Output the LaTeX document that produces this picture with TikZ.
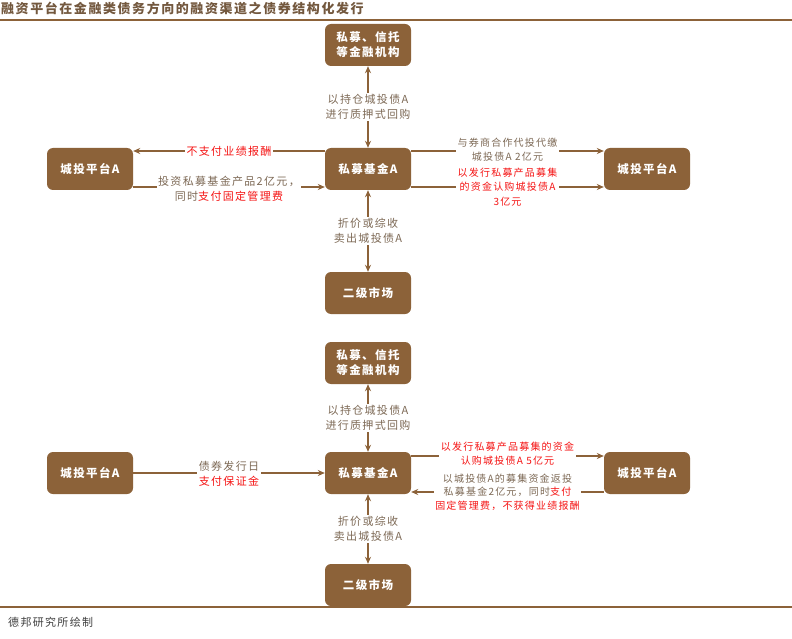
\documentclass[tikz,border=0pt]{standalone}
\usepackage{fontspec}
\setmainfont{Liberation Serif}
\newfontfamily\cjk{Noto Sans CJK SC}
\newfontfamily\cjkw[LetterSpace=12]{Noto Sans CJK SC}
\usetikzlibrary{arrows.meta}
\definecolor{brn}{RGB}{140,98,57}
\definecolor{lbl}{RGB}{125,105,85}
\definecolor{ttl}{RGB}{115,88,62}
\definecolor{rd}{RGB}{245,20,20}
\begin{document}
\begin{tikzpicture}[x=1pt,y=-1pt,
  box/.style={fill=brn, rounded corners=6pt, minimum width=86pt, minimum height=42pt,
    text=white, font=\cjkw\bfseries\fontsize{11.5}{15}\selectfont, align=center, inner sep=0pt},
  lab/.style={text=lbl, font=\cjkw\fontsize{11}{15}\selectfont, align=center, fill=white, inner sep=1.5pt},
  red/.style={text=rd},
  arr/.style={draw=brn, line width=1.3pt, -{Stealth[length=7pt,width=6pt]}},
  darr/.style={draw=brn, line width=1.3pt, {Stealth[length=7pt,width=6pt]}-{Stealth[length=7pt,width=6pt]}},
  rule/.style={draw=brn, line width=1.6pt}]
\useasboundingbox (0,0) rectangle (792,639);
\fill[white] (0,0) rectangle (792,639);
% title and rules
\node[anchor=west, text=ttl, font=\cjkw\bfseries\fontsize{13}{16}\selectfont, inner sep=0pt] (title) at (1,8) {融资平台在金融类债务方向的融资渠道之债券结构化发行};
\coordinate (r1a) at (0,20); \coordinate (r1b) at (792,20);
\draw[rule] (r1a) -- (r1b);
\coordinate (r2a) at (0,607); \coordinate (r2b) at (792,607);
\draw[rule] (r2a) -- (r2b);
\node[anchor=west, text=black!75, font=\cjkw\fontsize{11}{14}\selectfont, inner sep=0pt] (src) at (8,622) {德邦研究所绘制};

% ===== top diagram =====
\node[box] (f1) at (368,45) {私募、信托\\等金融机构};
\node[box] (p1) at (368,169) {私募基金A};
\node[box] (cl1) at (90,169) {城投平台A};
\node[box] (cr1) at (647,169) {城投平台A};
\node[box] (m1) at (368,293) {二级市场};

\draw[darr] (f1.south) -- (p1.north) node[midway, lab] {以持仓城投债A\\进行质押式回购};
\draw[darr] (p1.south) -- (m1.north) node[midway, lab] {折价或综收\\卖出城投债A};

\draw[arr] ([yshift=18pt]p1.west) -- ([yshift=18pt]cl1.east) node[midway, lab, red] {不支付业绩报酬};
\draw[arr] ([yshift=-18pt]cl1.east) -- ([yshift=-18pt]p1.west) node[midway, lab, yshift=-2pt] {投资私募基金产品2亿元，\\同时{\color{rd}支付固定管理费}};
\draw[arr] ([yshift=18pt]p1.east) -- ([yshift=18pt]cr1.west) node[midway, lab, yshift=1pt, font=\cjkw\fontsize{10}{14}\selectfont] {与券商合作代投代缴\\城投债A\ 2亿元};
\draw[arr] ([yshift=-18pt]p1.east) -- ([yshift=-18pt]cr1.west) node[midway, lab, red, font=\cjkw\fontsize{10}{14.5}\selectfont] {以发行私募产品募集\\的资金认购城投债A\\3亿元};

% ===== bottom diagram =====
\node[box] (f2) at (368,363) {私募、信托\\等金融机构};
\node[box] (p2) at (368,473) {私募基金A};
\node[box] (cl2) at (90,473) {城投平台A};
\node[box] (cr2) at (647,473) {城投平台A};
\node[box] (m2) at (368,585) {二级市场};

\draw[darr] (f2.south) -- (p2.north) node[midway, lab] {以持仓城投债A\\进行质押式回购};
\draw[darr] (p2.south) -- (m2.north) node[midway, lab] {折价或综收\\卖出城投债A};

\draw[arr] (cl2.east) -- (p2.west) node[midway, lab, yshift=-1pt] {债券发行日\\{\color{rd}支付保证金}};
\draw[arr] ([yshift=17pt]p2.east) -- ([yshift=17pt]cr2.west) node[midway, lab, red, yshift=2pt, font=\cjkw\fontsize{10}{14}\selectfont] {以发行私募产品募集的资金\\认购城投债A\ 5亿元};
\draw[arr] ([yshift=-19pt]cr2.west) -- ([yshift=-19pt]p2.east) node[midway, lab, font=\cjkw\fontsize{10}{13.5}\selectfont] {以城投债A的募集资金返投\\私募基金2亿元，同时{\color{rd}支付}\\{\color{rd}固定管理费，不获得业绩报酬}};
\end{tikzpicture}
\end{document}
